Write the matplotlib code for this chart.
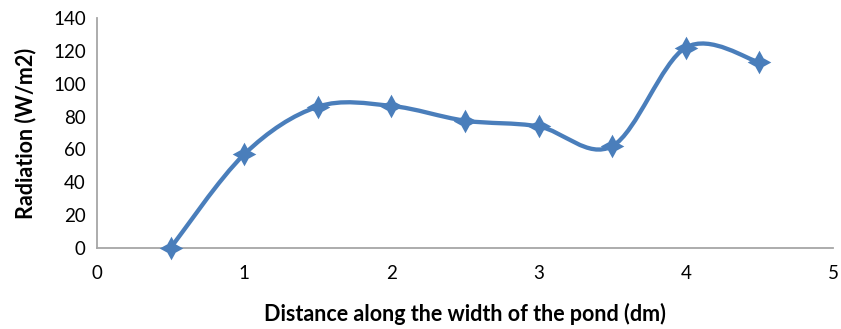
import matplotlib
matplotlib.use("Agg")
import matplotlib.pyplot as plt
from matplotlib.path import Path
from matplotlib.patches import PathPatch
import numpy as np

x_vals = [0.5, 1.0, 1.5, 2.0, 2.5, 3.0, 3.5, 4.0, 4.5]
y_vals = [0, 57, 86, 86.5, 77.5, 74, 62, 122, 113]
x_ticks = [0, 1, 2, 3, 4, 5]
y_ticks = [0, 20, 40, 60, 80, 100, 120, 140]
x_label = "Distance along the width of the pond (dm)"
y_label = "Radiation (W/m2)"

color = "#4a7ebb"
plt.rcParams['font.family'] = ['Lato', 'DejaVu Sans']

fig = plt.figure(figsize=(8.41, 3.29), dpi=100)
ax = fig.add_axes([0.1153, 0.2462, 0.8752, 0.6991])

# Excel-style smoothed curve (Catmull-Rom -> cubic Bezier)
P = np.column_stack([x_vals, y_vals]).astype(float)
n = len(P)
verts = [tuple(P[0])]
codes = [Path.MOVETO]
for i in range(n - 1):
    p0 = P[i - 1] if i > 0 else P[i]
    p1 = P[i]
    p2 = P[i + 1]
    p3 = P[i + 2] if i + 2 < n else P[i + 1]
    c1 = p1 + (p2 - p0) / 6.0
    c2 = p2 - (p3 - p1) / 6.0
    verts += [tuple(c1), tuple(c2), tuple(p2)]
    codes += [Path.CURVE4] * 3
ax.add_patch(PathPatch(Path(verts, codes), facecolor='none', edgecolor=color,
                       lw=3.1, capstyle='round', joinstyle='round', zorder=3))

# four-point star marker
ang = np.linspace(0, 2 * np.pi, 9)[:-1] + np.pi / 2
rad = np.array([1.0, 0.5] * 4)
star = Path(np.column_stack([rad * np.cos(ang), rad * np.sin(ang)]).tolist() + [[0, 1]],
            [Path.MOVETO] + [Path.LINETO] * 7 + [Path.CLOSEPOLY])
ax.plot(x_vals, y_vals, linestyle='none', marker=star, markersize=17,
        color=color, markeredgewidth=0, zorder=4, clip_on=False)

ax.set_xlim(0, 5)
ax.set_ylim(0, 140)
ax.set_xticks(x_ticks)
ax.set_yticks(y_ticks)
for s in ['top', 'right']:
    ax.spines[s].set_visible(False)
for s in ['left', 'bottom']:
    ax.spines[s].set_color('#a6a6a6')
    ax.spines[s].set_linewidth(1.3)
ax.tick_params(length=0, labelsize=13.5, colors='black', pad=8)
ax.tick_params(axis='x', pad=12)
ax.set_xlabel(x_label, fontsize=15.5, fontweight='bold', labelpad=15)
ax.set_ylabel(y_label, fontsize=15.5, fontweight='bold', labelpad=12)

fig.savefig("out.png", dpi=100)
